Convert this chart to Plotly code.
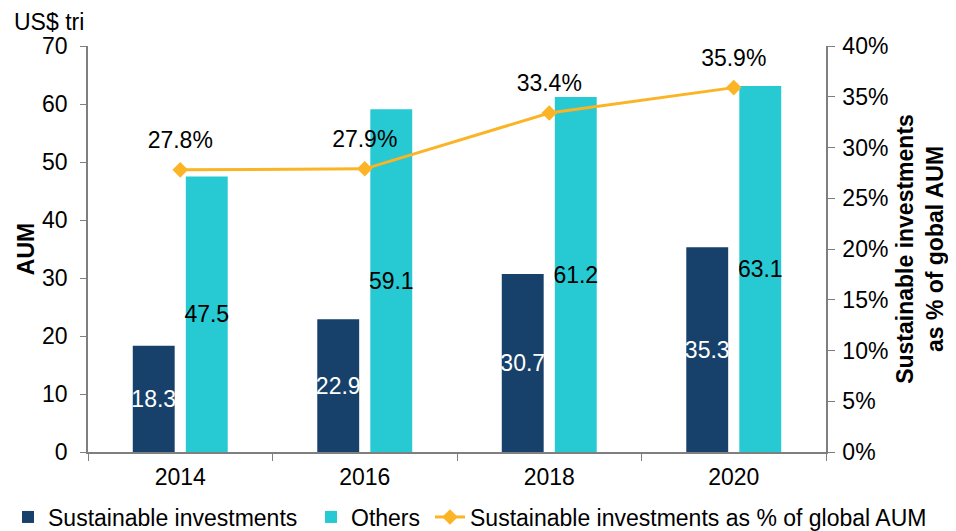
import plotly.graph_objects as go

years = ["2014", "2016", "2018", "2020"]
sustainable = [18.3, 22.9, 30.7, 35.3]
others = [47.5, 59.1, 61.2, 63.1]
share = [0.278, 0.279, 0.334, 0.359]

FONT = "Liberation Sans, Arial, sans-serif"
FS = 23
NAVY = "#17416A"
CYAN = "#27C9D2"
ORANGE = "#FBB425"
W, H = 940, 523  # page body has an 8px margin

fig = go.Figure()
fig.add_trace(go.Bar(
    x=years, y=sustainable, name="Sustainable investments", legend="legend",
    marker=dict(color=NAVY, line=dict(width=0)),
    text=[f"{v:.1f}" for v in sustainable], textposition="inside",
    insidetextanchor="middle", textangle=0, constraintext="none",
    textfont=dict(color="white", size=FS, family=FONT),
))
fig.add_trace(go.Bar(
    x=years, y=others, name="Others", legend="legend2",
    marker=dict(color=CYAN, line=dict(width=0)),
    text=[f"{v:.1f}" for v in others], textposition="inside",
    insidetextanchor="middle", textangle=0, constraintext="none",
    textfont=dict(color="black", size=FS, family=FONT),
))
fig.add_trace(go.Scatter(
    x=years, y=share, name="Sustainable investments as % of global AUM",
    legend="legend3",
    yaxis="y2", mode="lines+markers",
    line=dict(color=ORANGE, width=3),
    marker=dict(symbol="diamond", size=12, color=ORANGE),
    cliponaxis=False,
))
# percentage labels above the markers
fig.add_trace(go.Scatter(
    x=years, y=share, yaxis="y2", mode="markers+text", showlegend=False,
    marker=dict(size=24, opacity=0), hoverinfo="skip",
    text=[f"{v*100:.1f}%" for v in share], textposition="top center",
    textfont=dict(color="black", size=FS, family=FONT),
    cliponaxis=False,
))


def leg(px):
    return dict(orientation="h", xref="container", yref="container",
                x=px / W, xanchor="left", y=14 / H, yanchor="middle",
                font=dict(size=FS), itemwidth=30, bgcolor="rgba(0,0,0,0)")


fig.update_layout(
    width=W, height=H,
    margin=dict(l=80, r=122, t=38, b=79, autoexpand=False),
    paper_bgcolor="white", plot_bgcolor="white",
    font=dict(family=FONT, size=FS, color="black"),
    barmode="group", bargap=0.425, bargroupgap=0.21,
    showlegend=True,
    legend=leg(0),
    legend2=leg(303),
    legend3=leg(422),
    xaxis=dict(
        type="category", showline=True, linecolor="#7F7F7F", linewidth=1.5,
        ticks="outside", tickson="boundaries", ticklen=7, tickcolor="#7F7F7F",
        showgrid=False, tickfont=dict(size=FS), ticklabelstandoff=4,
    ),
    yaxis=dict(
        range=[0, 70], dtick=10, showline=True, linecolor="#7F7F7F", linewidth=1.5,
        ticks="outside", ticklen=6, tickcolor="#7F7F7F", showgrid=False, zeroline=False,
        tickfont=dict(size=FS), ticklabelstandoff=8,
        title=dict(text="<b>AUM</b>", font=dict(size=FS), standoff=1),
    ),
    yaxis2=dict(
        overlaying="y", side="right", range=[0, 0.4], dtick=0.05, tickformat=".0%",
        showline=True, linecolor="#7F7F7F", linewidth=1.5,
        ticks="outside", ticklen=7, tickcolor="#7F7F7F", showgrid=False, zeroline=False,
        tickfont=dict(size=FS), ticklabelstandoff=3,
        title=dict(text="<b>Sustainable investments<br>as % of gobal AUM</b>",
                   font=dict(size=FS), standoff=10),
    ),
    annotations=[dict(
        text="US$ tri", xref="paper", yref="paper", x=-0.103, y=1.0,
        xanchor="left", yanchor="bottom", showarrow=False, yshift=9,
        font=dict(size=FS),
    )],
)

fig.write_html("out.html")
